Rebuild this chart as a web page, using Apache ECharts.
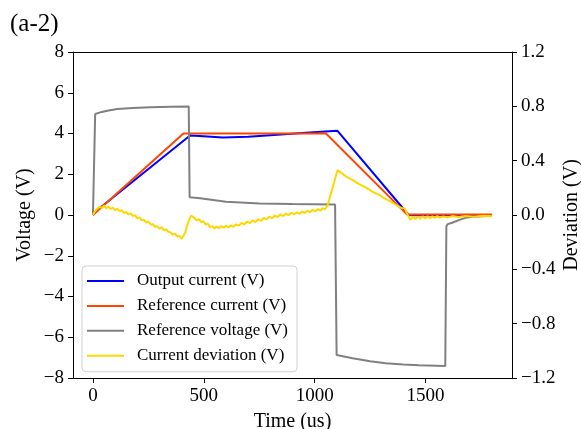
<!DOCTYPE html>
<html>
<head>
<meta charset="utf-8">
<script src="https://cdn.jsdelivr.net/npm/echarts@6/dist/echarts.min.js"></script>
<style>
  html, body { margin: 0; padding: 0; background: #fff; }
  #chart { width: 581px; height: 429px; }
</style>
</head>
<body>
<div id="chart"></div>
<script>
const seriesNames = ['Output current (V)', 'Reference current (V)', 'Reference voltage (V)', 'Current deviation (V)'];
const xTicks = [0, 500, 1000, 1500];

// output current
const outT = [0, 20, 438, 480, 586, 700, 800, 976, 1102, 1424, 1440, 1800];
const outV = [0, 0.25, 3.9, 3.88, 3.8, 3.84, 3.92, 4.05, 4.14, 0.0, -0.01, -0.01];

// reference current
const refT = [0, 408, 1051, 1416, 1800];
const refV = [0, 4.0, 4.0, 0.03, 0.03];

// reference voltage
const voltT = [0, 8, 10, 40, 65, 109, 180, 259, 350, 432, 436, 483, 600, 752, 900, 1092, 1099, 1171, 1250, 1320, 1400, 1470, 1589, 1594, 1600, 1620, 1650, 1680, 1720, 1800];
const voltV = [0, 0, 4.96, 5.06, 5.12, 5.2, 5.25, 5.29, 5.31, 5.32, 0.87, 0.82, 0.65, 0.57, 0.54, 0.52, -6.87, -7.03, -7.18, -7.28, -7.34, -7.38, -7.41, -0.55, -0.45, -0.38, -0.25, -0.14, -0.08, -0.04];

// current deviation (right axis)
const devT = [0, 10, 20, 30, 40, 50, 60, 70, 80, 90, 100, 110, 120, 130, 140, 150, 160, 170, 180, 190,
  200, 210, 220, 230, 240, 250, 260, 270, 280, 290, 300, 310, 320, 330, 340, 350, 360, 370, 380, 390, 400, 408,
  416, 423, 433, 443, 450, 458, 468, 478, 488, 498, 508, 518, 528, 538, 548, 558, 568, 578, 590, 600, 612, 622, 632,
  645, 658, 670, 683, 695, 708, 720, 733, 745, 758, 770, 782, 795, 808, 820, 833, 845, 858, 870, 883, 895, 908, 920, 931,
  943, 955, 967, 979, 991, 1003, 1015, 1027, 1036, 1046, 1050, 1058, 1103, 1120, 1140, 1170, 1200, 1230, 1260, 1290, 1320,
  1350, 1380, 1395, 1405, 1413, 1420, 1432, 1443, 1454, 1465, 1476, 1487, 1498, 1509, 1520, 1531, 1542, 1553, 1564, 1580,
  1600, 1620, 1650, 1680, 1720, 1760, 1800];
const devV = [0.0, 0.03, 0.045, 0.06, 0.052, 0.068, 0.05, 0.062, 0.044, 0.055, 0.036, 0.045, 0.026, 0.035, 0.014, 0.022, 0.004, 0.012, -0.008, -0.002,
  -0.025, -0.018, -0.04, -0.034, -0.055, -0.048, -0.07, -0.068, -0.088, -0.082, -0.1, -0.092, -0.112, -0.105, -0.124, -0.128, -0.145, -0.138, -0.158, -0.155, -0.175, -0.185,
  -0.13, -0.086, -0.04, -0.005, -0.015, -0.022, -0.04, -0.03, -0.052, -0.045, -0.07, -0.065, -0.088, -0.082, -0.1, -0.085, -0.098, -0.082, -0.094, -0.078, -0.092, -0.075, -0.088,
  -0.07, -0.078, -0.058, -0.068, -0.048, -0.06, -0.04, -0.052, -0.03, -0.044, -0.022, -0.032, -0.012, -0.024, -0.004, -0.016, 0.004, -0.008, 0.01, -0.002, 0.016, 0.004, 0.02, 0.008,
  0.026, 0.014, 0.032, 0.02, 0.038, 0.026, 0.044, 0.032, 0.05, 0.042, 0.055, 0.07, 0.33, 0.31, 0.285, 0.258, 0.228, 0.203, 0.172, 0.148, 0.118,
  0.092, 0.062, 0.049, 0.05, 0.025, 0.0, -0.037, -0.012, -0.03, -0.012, -0.028, -0.01, -0.026, -0.01, -0.024, -0.01, -0.022, -0.008, -0.02, -0.01,
  -0.018, -0.008, -0.014, -0.008, -0.012, -0.006, -0.01];

const pairs = (t, v) => t.map((x, i) => [x, v[i]]);
const serif = 'Liberation Serif, Times New Roman, serif';
const minus = s => String(s).replace('-', '\u2212');

const chart = echarts.init(document.getElementById('chart'));

const lineSeries = (name, data, color, yIdx) => ({
  name: name,
  type: 'line',
  data: data,
  yAxisIndex: yIdx,
  showSymbol: false,
  symbol: 'none',
  lineStyle: { color: color, width: 2 },
  itemStyle: { color: color }
});

const nameStyle = { fontFamily: serif, fontSize: 20, color: '#000' };
const blackLine = { show: true, onZero: false, lineStyle: { color: '#000', width: 1 } };

chart.setOption({
  animation: false,
  title: {
    text: '(a-2)',
    left: 5,
    top: 7,
    textStyle: { fontFamily: serif, fontSize: 25, fontWeight: 'normal', color: '#000' }
  },
  grid: { left: 73, right: 69, top: 52, bottom: 51, outerBoundsMode: 'none', containLabel: false },
  legend: {
    orient: 'vertical',
    left: 82, top: 266,
    padding: [6, 9, 7, 5],
    itemWidth: 37, itemHeight: 2, itemGap: 6.9,
    icon: 'rect',
    borderColor: '#d0d0d0', borderWidth: 1, borderRadius: 4,
    backgroundColor: 'rgba(255,255,255,0.8)',
    textStyle: { fontFamily: serif, fontSize: 17, color: '#000', lineHeight: 18, padding: [0, 0, 0, 8] },
    data: seriesNames
  },
  xAxis: [{
    type: 'value',
    min: -90, max: 1890,
    name: 'Time (us)',
    nameLocation: 'middle',
    nameGap: 34,
    nameMoveOverlap: false,
    nameTextStyle: nameStyle,
    axisLine: blackLine,
    axisTick: { show: true, length: 5, customValues: xTicks, lineStyle: { color: '#000' } },
    axisLabel: { customValues: xTicks, fontFamily: serif, fontSize: 19, color: '#000', margin: 9, formatter: v => String(v) },
    splitLine: { show: false }
  }, {
    type: 'value',
    position: 'top',
    min: -90, max: 1890,
    axisLine: blackLine,
    axisTick: { show: false },
    axisLabel: { show: false },
    splitLine: { show: false }
  }],
  yAxis: [{
    type: 'value',
    min: -8, max: 8, interval: 2,
    name: 'Voltage (V)',
    nameLocation: 'middle',
    nameGap: 38,
    nameMoveOverlap: false,
    nameTextStyle: nameStyle,
    axisLine: blackLine,
    axisTick: { show: true, length: 5, lineStyle: { color: '#000' } },
    axisLabel: { fontFamily: serif, fontSize: 19, color: '#000', margin: 9, formatter: v => minus(v) },
    splitLine: { show: false }
  }, {
    type: 'value',
    position: 'right',
    min: -1.2, max: 1.2, interval: 0.4,
    name: 'Deviation (V)',
    nameLocation: 'middle',
    nameGap: 50,
    nameRotate: 90,
    nameMoveOverlap: false,
    nameTextStyle: nameStyle,
    axisLine: blackLine,
    axisTick: { show: true, length: 5, lineStyle: { color: '#000' } },
    axisLabel: { fontFamily: serif, fontSize: 19, color: '#000', margin: 9, formatter: v => minus((Math.round(v * 10) / 10).toFixed(1)) },
    splitLine: { show: false }
  }],
  series: [
    lineSeries(seriesNames[0], pairs(outT, outV), '#0000ff', 0),
    lineSeries(seriesNames[1], pairs(refT, refV), '#ff4500', 0),
    lineSeries(seriesNames[2], pairs(voltT, voltV), '#808080', 0),
    lineSeries(seriesNames[3], pairs(devT, devV), '#ffd700', 1)
  ]
});
</script>
</body>
</html>
